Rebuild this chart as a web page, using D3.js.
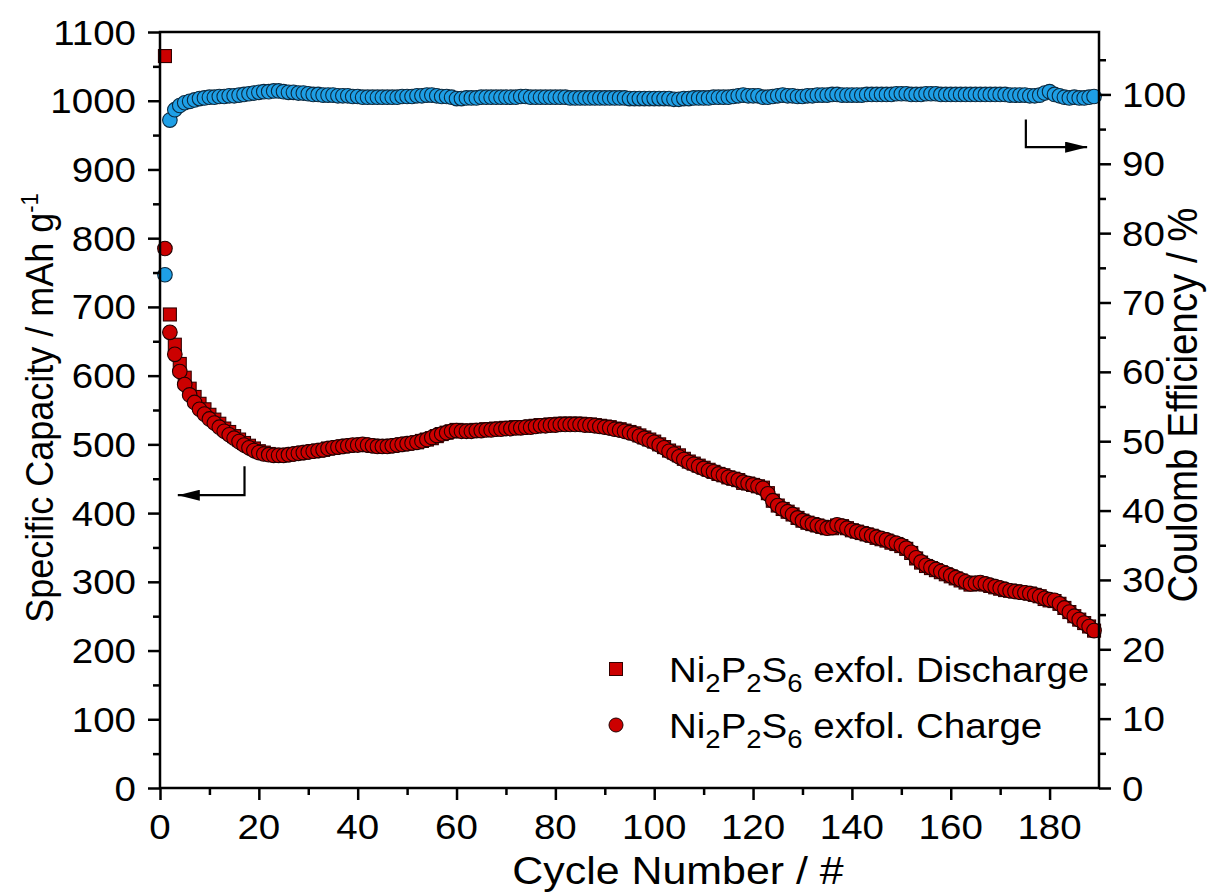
<!DOCTYPE html>
<html><head><meta charset="utf-8">
<script src="https://cdn.jsdelivr.net/npm/d3@7"></script>
<style>
body{margin:0;background:#fff}
svg text{font-family:"Liberation Sans",Arial,Helvetica,sans-serif;fill:#000}
</style>
</head><body>
<svg id="chart" width="1213" height="894"></svg>
<script>
// ---------------- data ----------------
const chargeCapacity = [
 785,663,631,606,587,572,561,551,544,537,
 531,525,519,514,509,504,499,495,491,488,
 486,485,484,484,484,485,486,487,488,489,
 490,491,492,494,495,496,497,498,499,499,
 500,499,498,497,497,497,498,499,500,501,
 502,503,505,507,510,513,515,517,519,520,
 519,519,519,520,520,521,521,522,522,523,
 523,524,524,525,525,526,527,527,528,528,
 529,529,529,529,529,528,528,527,526,525,
 524,522,521,519,517,515,512,509,506,503,
 499,495,490,486,482,478,474,471,468,465,
 462,460,457,455,452,450,448,445,443,441,
 439,436,428,418,411,406,402,398,393,389,
 386,384,382,380,378,379,383,381,378,375,
 373,371,369,367,365,363,361,358,356,353,
 349,343,335,329,324,321,318,315,312,309,
 306,303,300,297,298,299,297,295,293,291,
 289,287,286,285,284,283,281,279,276,274,
 273,268,262,256,250,245,240,235,229
];
const dischargeCapacity = [
 1065,689,645,617,597,581,569,559,551,543,
 536,530,523,518,512,507,502,498,494,490,
 488,486,485,484,484,485,486,487,488,489,
 490,491,492,494,495,496,497,498,499,499,
 500,499,498,497,497,497,498,499,500,501,
 502,503,505,507,509,512,515,517,519,521,
 520,520,520,521,521,522,522,523,523,524,
 524,525,524,525,526,527,528,528,529,529,
 530,530,530,530,530,529,529,528,527,526,
 525,523,522,520,518,516,513,510,507,504,
 500,496,491,488,484,479,475,472,469,466,
 463,460,457,455,452,450,448,444,443,441,
 439,437,429,418,411,406,402,398,393,389,
 386,384,382,380,378,378,382,381,378,375,
 373,371,369,367,364,362,360,357,355,352,
 348,342,334,328,323,320,317,314,311,308,
 305,302,299,296,297,298,296,294,292,290,
 288,287,286,285,284,283,281,279,275,273,
 272,268,262,256,250,245,240,235,229
];
const coulombEfficiency = [
 74.0,96.3,97.8,98.4,98.8,99.0,99.2,99.4,99.5,99.6,
 99.6,99.7,99.7,99.8,99.8,99.9,100.0,100.1,100.2,100.3,
 100.4,100.4,100.5,100.5,100.4,100.3,100.3,100.2,100.2,100.1,
 100.0,100.0,99.9,99.9,99.9,99.8,99.8,99.8,99.7,99.7,
 99.6,99.6,99.6,99.6,99.6,99.6,99.6,99.6,99.7,99.7,
 99.7,99.8,99.8,99.9,99.9,99.8,99.7,99.7,99.6,99.4,
 99.4,99.5,99.5,99.5,99.6,99.6,99.6,99.6,99.6,99.6,
 99.6,99.6,99.7,99.7,99.6,99.6,99.6,99.6,99.6,99.6,
 99.6,99.6,99.5,99.5,99.5,99.5,99.5,99.5,99.5,99.5,
 99.5,99.5,99.5,99.5,99.4,99.4,99.4,99.4,99.4,99.4,
 99.4,99.4,99.4,99.3,99.3,99.4,99.4,99.5,99.5,99.5,
 99.5,99.6,99.6,99.6,99.6,99.7,99.8,99.9,99.8,99.8,
 99.8,99.6,99.6,99.7,99.8,99.9,99.8,99.8,99.7,99.7,
 99.8,99.8,99.9,99.9,99.9,100.0,100.0,99.9,99.9,99.9,
 99.9,99.9,100.0,100.0,100.0,100.0,100.0,100.0,100.1,100.1,
 100.1,100.0,100.0,100.0,100.1,100.1,100.1,100.0,100.0,100.0,
 100.0,100.0,100.0,100.0,100.0,100.0,100.0,100.0,100.0,100.0,
 100.0,99.9,99.9,99.9,99.9,99.8,99.8,99.9,100.2,100.4,
 100.0,99.8,99.6,99.5,99.6,99.5,99.5,99.6,99.7
];
const cycles = d3.range(1, chargeCapacity.length + 1);

const xTickValues = [0,20,40,60,80,100,120,140,160,180];
const xMinorValues = [10,30,50,70,90,110,130,150,170];
const yLeftTickValues = [0,100,200,300,400,500,600,700,800,900,1000,1100];
const yLeftMinorValues = [50,150,250,350,450,550,650,750,850,950,1050];
const yRightTickValues = [0,10,20,30,40,50,60,70,80,90,100];
const yRightMinorValues = [5,15,25,35,45,55,65,75,85,95,105];

const xTitle = "Cycle Number / #";
const yLeftTitle = "Specific Capacity / mAh g";
const yRightTitle = "Coulomb Efficiency / %";
const legendNames = ["Discharge", "Charge"];

// ---------------- layout ----------------
const L = 160, R = 1099, T = 32, B = 788;
const SX = 1.1; // horizontal stretch of the original picture
const RED = "#cc0000", BLUE = "#1e9fe6";

const svg = d3.select("#chart");
const x = d3.scaleLinear().domain([0,190]).range([L,R]);
const yL = d3.scaleLinear().domain([0,1100]).range([B,T]);
const yR = d3.scaleLinear().domain([0,109]).range([B,T]);

// data marks
const gD = svg.append("g");
gD.selectAll("rect").data(cycles).join("rect")
  .attr("x", d => x(d) - 6.5).attr("y", (d,i) => yL(dischargeCapacity[i]) - 6.5)
  .attr("width", 13).attr("height", 13)
  .attr("fill", RED).attr("stroke", "#300").attr("stroke-width", 1.1);

const gC = svg.append("g");
gC.selectAll("circle").data(cycles).join("circle")
  .attr("cx", d => x(d)).attr("cy", (d,i) => yL(chargeCapacity[i]))
  .attr("r", 7.3)
  .attr("fill", RED).attr("stroke", "#200").attr("stroke-width", 1.1);

const gE = svg.append("g");
gE.selectAll("circle").data(cycles).join("circle")
  .attr("cx", d => x(d)).attr("cy", (d,i) => yR(coulombEfficiency[i]))
  .attr("r", 7.3)
  .attr("fill", BLUE).attr("stroke", "#0b2a40").attr("stroke-width", 1.1);

// axes
function styleAxis(g){
  g.select(".domain").remove();
  g.selectAll("line").attr("stroke","#000").attr("stroke-width",2.5);
}
svg.append("g").attr("transform",`translate(0,${B})`)
  .call(d3.axisBottom(x).tickValues(xTickValues).tickSize(12).tickFormat("")).call(styleAxis);
svg.append("g").attr("transform",`translate(0,${B})`)
  .call(d3.axisBottom(x).tickValues(xMinorValues).tickSize(7).tickFormat("")).call(styleAxis);
svg.append("g").attr("transform",`translate(${L},0)`)
  .call(d3.axisLeft(yL).tickValues(yLeftTickValues).tickSize(12).tickFormat("")).call(styleAxis);
svg.append("g").attr("transform",`translate(${L},0)`)
  .call(d3.axisLeft(yL).tickValues(yLeftMinorValues).tickSize(7).tickFormat("")).call(styleAxis);
svg.append("g").attr("transform",`translate(${R},0)`)
  .call(d3.axisRight(yR).tickValues(yRightTickValues).tickSize(12).tickFormat("")).call(styleAxis);
svg.append("g").attr("transform",`translate(${R},0)`)
  .call(d3.axisRight(yR).tickValues(yRightMinorValues).tickSize(7).tickFormat("")).call(styleAxis);

// frame
svg.append("rect").attr("x",L).attr("y",T).attr("width",R-L).attr("height",B-T)
  .attr("fill","none").attr("stroke","#000").attr("stroke-width",2.5);

// tick labels
const FS = 35;
xTickValues.forEach(v => {
  svg.append("text").attr("transform",`translate(${x(v)},${B+51}) scale(${SX},1)`)
    .attr("text-anchor","middle").attr("font-size",FS).text(v);
});
yLeftTickValues.forEach(v => {
  svg.append("text").attr("transform",`translate(${L-24},${yL(v)+12.5}) scale(${SX},1)`)
    .attr("text-anchor","end").attr("font-size",FS).text(v);
});
yRightTickValues.forEach(v => {
  svg.append("text").attr("transform",`translate(${R+23},${yR(v)+12.5}) scale(${SX},1)`)
    .attr("text-anchor","start").attr("font-size",FS).text(v);
});

// axis titles
svg.append("text").attr("transform",`translate(678,884) scale(${SX},1)`)
  .attr("text-anchor","middle").attr("font-size",39).text(xTitle);

const tl = svg.append("text").attr("transform",`translate(53,${(T+B)/2 - 2}) scale(${SX},1) rotate(-90)`)
  .attr("text-anchor","middle").attr("font-size",36);
tl.append("tspan").text(yLeftTitle);
tl.append("tspan").attr("dy",-14).attr("font-size",22).text("-1");

svg.append("text").attr("transform",`translate(1197,405) scale(${SX},1) rotate(-90)`)
  .attr("text-anchor","middle").attr("font-size",38.5).text(yRightTitle);

// direction arrows
const arrowDefs = svg.append("defs");
arrowDefs.append("marker").attr("id","ah").attr("viewBox","0 0 20 10")
  .attr("refX",20).attr("refY",5).attr("markerWidth",10).attr("markerHeight",5)
  .attr("markerUnits","strokeWidth").attr("orient","auto")
  .append("path").attr("d","M0,0 L20,5 L0,10 z").attr("fill","#000");
svg.append("path").attr("d",`M${x(17.1)},${yL(468)} V${yL(426)} H${x(3.6)}`)
  .attr("fill","none").attr("stroke","#000").attr("stroke-width",2.2).attr("marker-end","url(#ah)");
svg.append("path").attr("d",`M${x(175.2)},${yR(96.4)} V${yR(92.4)} H${x(187.6)}`)
  .attr("fill","none").attr("stroke","#000").attr("stroke-width",2.2).attr("marker-end","url(#ah)");

// legend
const legY = [669, 725];
const lg = svg.append("g");
lg.append("rect").attr("x",616-6.5).attr("y",legY[0]-6.5).attr("width",13).attr("height",13)
  .attr("fill",RED).attr("stroke","#300").attr("stroke-width",1);
lg.append("circle").attr("cx",616).attr("cy",legY[1]).attr("r",7)
  .attr("fill",RED).attr("stroke","#200").attr("stroke-width",1);
legendNames.forEach((name,i) => {
  const t = lg.append("text").attr("transform",`translate(669,${legY[i]+12.5}) scale(${SX},1)`)
    .attr("font-size",35);
  t.append("tspan").text("Ni");
  t.append("tspan").attr("font-size",25).attr("dy",10).text("2");
  t.append("tspan").attr("dy",-10).text("P");
  t.append("tspan").attr("font-size",25).attr("dy",10).text("2");
  t.append("tspan").attr("dy",-10).text("S");
  t.append("tspan").attr("font-size",25).attr("dy",10).text("6");
  t.append("tspan").attr("dy",-10).text(" exfol. " + name);
});
</script>
</body></html>
